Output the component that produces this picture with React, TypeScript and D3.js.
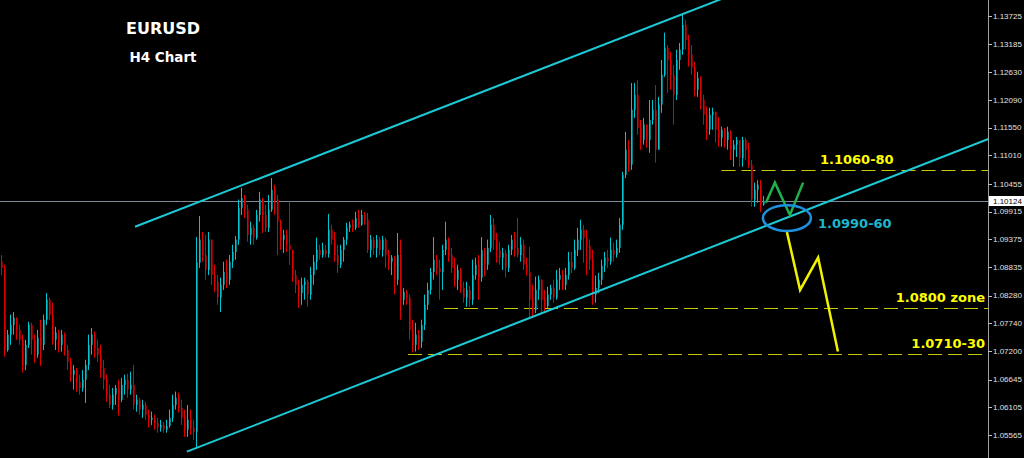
import * as d3 from "d3";

// H4 candles, open = previous close
const firstOpen = 1.0894;

const closes = [
  1.0882, 1.0722, 1.0752, 1.0771, 1.0785, 1.0761, 1.0742, 1.0693, 1.0732, 1.0771, 1.0742, 1.0713, 1.0746, 1.0732, 1.0781,
  1.082, 1.0791, 1.0742, 1.0756, 1.0732, 1.0752, 1.0722, 1.0699, 1.0674, 1.0683, 1.066, 1.0648, 1.0664, 1.0693, 1.0732,
  1.0752, 1.0726, 1.0713, 1.0687, 1.0664, 1.0635, 1.0615, 1.0635, 1.0648, 1.0625, 1.0654, 1.0664, 1.0645, 1.0654, 1.0615,
  1.0625, 1.0606, 1.0615, 1.0596, 1.0586, 1.059, 1.058, 1.0571, 1.0576, 1.0567, 1.0574, 1.059, 1.0615, 1.0629, 1.0609,
  1.059, 1.0567, 1.0586, 1.0571, 1.0563, 1.0892, 1.0937, 1.0907, 1.0878, 1.0937, 1.0868, 1.0855, 1.0824, 1.0849, 1.0874,
  1.0859, 1.0894, 1.0913, 1.0937, 1.0999, 1.1018, 1.0995, 1.0946, 1.096, 1.0941, 1.0985, 1.1015, 1.0985, 1.096, 1.0995,
  1.1034, 1.1015, 1.0972, 1.0937, 1.0946, 1.0927, 1.0917, 1.0868, 1.0849, 1.0833, 1.0849, 1.0855, 1.083, 1.0868, 1.0894,
  1.0917, 1.0907, 1.0917, 1.0909, 1.0956, 1.0937, 1.0907, 1.0888, 1.0917, 1.0937, 1.096, 1.0966, 1.096, 1.0979, 1.0966,
  1.0985, 1.0976, 1.0917, 1.0937, 1.0921, 1.0937, 1.0917, 1.0937, 1.0907, 1.0894, 1.0902, 1.0859, 1.0907, 1.082, 1.0835,
  1.0824, 1.0761, 1.0732, 1.0752, 1.0738, 1.0771, 1.081, 1.0839, 1.0874, 1.0898, 1.0882, 1.0874, 1.0917, 1.0937, 1.0907,
  1.0882, 1.0859, 1.0878, 1.0843, 1.0824, 1.0839, 1.082, 1.0868, 1.0888, 1.0863, 1.0917, 1.0888, 1.0921, 1.0966, 1.0937,
  1.0917, 1.0902, 1.0911, 1.0882, 1.0917, 1.0937, 1.0921, 1.0907, 1.0927, 1.0888, 1.0874, 1.082, 1.08, 1.0839, 1.0859,
  1.082, 1.0808, 1.083, 1.0843, 1.0824, 1.0859, 1.0868, 1.0849, 1.0868, 1.0894, 1.0882, 1.0917, 1.0937, 1.0956, 1.0941,
  1.0925, 1.0898, 1.083, 1.0843, 1.0859, 1.0886, 1.0902, 1.0894, 1.0917, 1.0907, 1.0921, 1.0966, 1.1063, 1.1112, 1.1083,
  1.119, 1.1219, 1.1155, 1.1131, 1.1161, 1.1131, 1.117, 1.119, 1.1112, 1.12, 1.1258, 1.1311, 1.1287, 1.1258, 1.1219,
  1.1287, 1.1307, 1.1355, 1.1326, 1.1297, 1.1272, 1.1229, 1.1252, 1.1209, 1.118, 1.1151, 1.118, 1.1186, 1.1151, 1.1135,
  1.1151, 1.1131, 1.1147, 1.1112, 1.1122, 1.1131, 1.1096, 1.1131, 1.1112, 1.1083, 1.1015, 1.1034, 1.1044, 1.1005, 1.1012,
];

const highs = [
  1.0907, 1.0888, 1.0761, 1.0791, 1.0796, 1.0785, 1.0771, 1.0752, 1.0742, 1.0777, 1.0775, 1.0752, 1.0761, 1.0781, 1.0791,
  1.0833, 1.0824, 1.0814, 1.0767, 1.0761, 1.0761, 1.0756, 1.0732, 1.0707, 1.0693, 1.0687, 1.0674, 1.0683, 1.0703, 1.0752,
  1.0765, 1.0758, 1.0742, 1.0732, 1.0703, 1.0674, 1.0654, 1.0648, 1.0654, 1.0664, 1.0668, 1.0674, 1.0676, 1.068, 1.0693,
  1.0635, 1.0629, 1.0625, 1.0621, 1.0606, 1.0602, 1.0596, 1.059, 1.0586, 1.0582, 1.0586, 1.0606, 1.0635, 1.0641, 1.0639,
  1.0625, 1.0606, 1.0615, 1.0606, 1.0586, 1.0942, 1.0983, 1.0952, 1.0946, 1.0952, 1.0937, 1.0888, 1.0868, 1.0863, 1.0894,
  1.0898, 1.0907, 1.0927, 1.0944, 1.1015, 1.1038, 1.1024, 1.1005, 1.0972, 1.0966, 1.0995, 1.103, 1.1018, 1.1005, 1.1024,
  1.1057, 1.1044, 1.1024, 1.0976, 1.0956, 1.0956, 1.1011, 1.0917, 1.0878, 1.0859, 1.0863, 1.0863, 1.0859, 1.0884, 1.0907,
  1.0941, 1.0927, 1.0931, 1.0927, 1.0987, 1.0966, 1.0952, 1.0927, 1.0927, 1.0942, 1.097, 1.0972, 1.0976, 1.0991, 1.0995,
  1.0995, 1.0991, 1.0989, 1.0946, 1.0942, 1.0946, 1.0942, 1.0944, 1.0941, 1.0917, 1.0907, 1.0905, 1.095, 1.0937, 1.0843,
  1.0839, 1.083, 1.0781, 1.0775, 1.0761, 1.0781, 1.083, 1.0853, 1.0882, 1.0942, 1.0907, 1.0898, 1.0927, 1.0972, 1.0941,
  1.0921, 1.0902, 1.0888, 1.0882, 1.0855, 1.0855, 1.0847, 1.0898, 1.0902, 1.0907, 1.0942, 1.0921, 1.0937, 1.0985, 1.0979,
  1.095, 1.0933, 1.0921, 1.0917, 1.0927, 1.0946, 1.0952, 1.0979, 1.0942, 1.0937, 1.0902, 1.0923, 1.0849, 1.0865, 1.0867,
  1.0859, 1.0839, 1.0845, 1.0849, 1.0859, 1.0878, 1.0882, 1.0878, 1.0882, 1.0913, 1.0913, 1.0937, 1.096, 1.0976, 1.0966,
  1.0956, 1.0937, 1.0917, 1.0867, 1.0872, 1.0898, 1.0913, 1.0917, 1.0941, 1.0931, 1.0937, 1.0979, 1.1069, 1.1147, 1.1131,
  1.1242, 1.1242, 1.1248, 1.117, 1.1174, 1.1161, 1.1209, 1.1209, 1.1238, 1.1215, 1.1287, 1.134, 1.1316, 1.1303, 1.1277,
  1.1307, 1.132, 1.1375, 1.1365, 1.1336, 1.1316, 1.1283, 1.1264, 1.1255, 1.1219, 1.1196, 1.1194, 1.1194, 1.1186, 1.1176,
  1.1157, 1.1155, 1.1157, 1.115, 1.1131, 1.1137, 1.1131, 1.1137, 1.1135, 1.1126, 1.1092, 1.1048, 1.1053, 1.1053, 1.1022,
];

const lows = [
  1.0868, 1.0709, 1.0719, 1.0732, 1.0752, 1.0742, 1.0732, 1.0678, 1.0683, 1.0726, 1.0713, 1.0697, 1.0707, 1.0691, 1.0722,
  1.0771, 1.0781, 1.0732, 1.0722, 1.0717, 1.0719, 1.0711, 1.0683, 1.066, 1.0645, 1.0641, 1.0635, 1.0641, 1.0619, 1.0683,
  1.0713, 1.0707, 1.0699, 1.0668, 1.0645, 1.0621, 1.0609, 1.0606, 1.0615, 1.0594, 1.0621, 1.0635, 1.0629, 1.0635, 1.0606,
  1.0602, 1.0596, 1.059, 1.0586, 1.0571, 1.0576, 1.0567, 1.0561, 1.0563, 1.0561, 1.0561, 1.0571, 1.0582, 1.0606, 1.06,
  1.0576, 1.0553, 1.0553, 1.0557, 1.0547, 1.053, 1.0882, 1.0894, 1.0859, 1.0868, 1.0849, 1.0835, 1.081, 1.0796, 1.0839,
  1.0843, 1.0849, 1.0882, 1.0898, 1.0927, 1.0985, 1.0979, 1.0933, 1.0927, 1.0927, 1.0937, 1.0972, 1.095, 1.0952, 1.0952,
  1.0991, 1.0985, 1.0907, 1.0917, 1.0911, 1.0913, 1.0888, 1.0855, 1.0833, 1.0804, 1.081, 1.082, 1.0806, 1.082, 1.0849,
  1.0878, 1.0898, 1.0902, 1.0902, 1.0902, 1.0927, 1.0894, 1.0872, 1.0882, 1.0894, 1.0927, 1.0952, 1.0952, 1.0956, 1.096,
  1.0964, 1.0966, 1.0911, 1.0902, 1.0907, 1.0902, 1.0907, 1.0904, 1.0882, 1.0878, 1.0868, 1.083, 1.0849, 1.0781, 1.081,
  1.081, 1.0742, 1.0717, 1.0719, 1.0722, 1.0726, 1.0761, 1.08, 1.083, 1.0859, 1.0868, 1.082, 1.0839, 1.0907, 1.0894,
  1.0872, 1.0845, 1.0839, 1.0833, 1.0814, 1.0806, 1.0806, 1.081, 1.0859, 1.082, 1.0855, 1.0865, 1.0878, 1.0913, 1.0917,
  1.0892, 1.0888, 1.0878, 1.0863, 1.0874, 1.0907, 1.0904, 1.0902, 1.0894, 1.0878, 1.0867, 1.0787, 1.0787, 1.0794, 1.082,
  1.0794, 1.0796, 1.0804, 1.082, 1.0814, 1.082, 1.0839, 1.0839, 1.0839, 1.0859, 1.0872, 1.0878, 1.0905, 1.0917, 1.0892,
  1.0868, 1.0878, 1.081, 1.0814, 1.0833, 1.0849, 1.0874, 1.0882, 1.0888, 1.0894, 1.0902, 1.0911, 1.0956, 1.1057, 1.1069,
  1.1073, 1.1174, 1.1141, 1.1112, 1.1122, 1.1116, 1.1106, 1.1161, 1.1087, 1.1112, 1.1184, 1.1254, 1.1223, 1.1229, 1.1161,
  1.1209, 1.1268, 1.1297, 1.1307, 1.1274, 1.1258, 1.1215, 1.1215, 1.119, 1.1161, 1.1131, 1.1141, 1.1151, 1.1126, 1.1118,
  1.1118, 1.1116, 1.1112, 1.1092, 1.1079, 1.1098, 1.1079, 1.1079, 1.1092, 1.1077, 1.1001, 1.1001, 1.1009, 1.0991, 1.1003,
];

const priceTicks = [
  1.13725, 1.13185, 1.1263, 1.1209, 1.1155, 1.1101, 1.10455, 1.09915,
  1.09375, 1.08835, 1.0828, 1.0774, 1.072, 1.06645, 1.06105, 1.05565,
];
const lastPrice = 1.10124;

// dashed levels: price, first bar, label
const levelPrices = [1.1072, 1.0804, 1.0715];
const levelFromBar = [240, 147.5, 135.5];
const levelLabels = ["1.1060-80", "1.0800 zone", "1.0710-30"];

// trend channel, [bar, price]
const upperChannel = [[44.5, 1.0962], [245, 1.1417]];
const lowerChannel = [[61.8, 1.0524], [329, 1.1133]];

// projected paths, [bar, price]
const greenPath = [[254.8, 1.1009], [257.8, 1.1048], [262.8, 1.0985], [267.2, 1.1048]];
const yellowPath = [[261.8, 1.0952], [266.2, 1.0839], [272.2, 1.0902], [278.8, 1.0719]];
const zoneCenter = [261.8, 1.0979];
const zoneBars = 8;
const zonePrice = 0.0025;
const zoneLabel = "1.0990-60";

export default function App() {
  const width = 1024;
  const height = 458;
  const axisX = 988;

  const x = d3.scaleLinear().domain([0, closes.length - 1]).range([1.5, 763.5]);
  const y = d3.scaleLinear().domain([1.05565, 1.13725]).range([435, 16]);
  const fmt = d3.format(".5f");
  const crisp = (v: number) => Math.round(v) + 0.5;
  const line = d3
    .line<number[]>()
    .x((d) => x(d[0]))
    .y((d) => y(d[1]));

  const candles = closes.map((close, i) => {
    const open = i === 0 ? firstOpen : closes[i - 1];
    return {
      i,
      open,
      close,
      high: Math.max(highs[i], open, close),
      low: Math.min(lows[i], open, close),
      up: close >= open,
    };
  });

  const lastY = crisp(y(lastPrice));
  const bold = "'DejaVu Sans', Verdana, sans-serif";

  return (
    <svg
      width={width}
      height={height}
      style={{ position: "absolute", left: 0, top: 0, display: "block", background: "#000" }}
    >
      <defs>
        <clipPath id="plot">
          <rect x={0} y={0} width={axisX} height={height} />
        </clipPath>
      </defs>
      <rect width={width} height={height} fill="#000" />

      <g clipPath="url(#plot)">
        <line x1={0} x2={axisX} y1={lastY} y2={lastY} stroke="#7a8a9c" strokeWidth={1} />

        {levelPrices.map((p, k) => (
          <line
            key={k}
            x1={x(levelFromBar[k])}
            x2={axisX}
            y1={crisp(y(p))}
            y2={crisp(y(p))}
            stroke="#c8c800"
            strokeWidth={1}
            strokeDasharray="14 6"
          />
        ))}

        {candles.map((c) => {
          const top = y(Math.max(c.open, c.close));
          const bottom = y(Math.min(c.open, c.close));
          return (
            <g key={c.i}>
              <rect
                x={x(c.i) - 0.5}
                y={top}
                width={2}
                height={Math.max(1, bottom - top)}
                fill={c.up ? "#007a80" : "#8b0000"}
              />
              <line
                x1={x(c.i)}
                x2={x(c.i)}
                y1={y(c.high)}
                y2={y(c.low)}
                stroke={c.up ? "#00c4d0" : "#e00000"}
                strokeWidth={1}
              />
            </g>
          );
        })}

        <path d={line(upperChannel) ?? ""} fill="none" stroke="#1ccad6" strokeWidth={2} />
        <path d={line(lowerChannel) ?? ""} fill="none" stroke="#1ccad6" strokeWidth={2} />

        <path d={line(greenPath) ?? ""} fill="none" stroke="#22b04a" strokeWidth={2.5} />
        <path d={line(yellowPath) ?? ""} fill="none" stroke="#f2f200" strokeWidth={2.5} />
        <ellipse
          cx={x(zoneCenter[0])}
          cy={y(zoneCenter[1])}
          rx={x(zoneCenter[0] + zoneBars) - x(zoneCenter[0])}
          ry={y(zoneCenter[1] - zonePrice) - y(zoneCenter[1])}
          fill="none"
          stroke="#1e90e0"
          strokeWidth={2.5}
        />
      </g>

      <text x={163} y={34} fill="#fff" fontFamily={bold} fontWeight="bold" fontSize={16} textAnchor="middle">
        EURUSD
      </text>
      <text x={163} y={62} fill="#fff" fontFamily={bold} fontWeight="bold" fontSize={13.5} textAnchor="middle">
        H4 Chart
      </text>

      {levelLabels.map((label, k) => (
        <text
          key={label}
          x={k === 0 ? 820 : 985}
          y={y(levelPrices[k]) - 6}
          fill="#ffff00"
          fontFamily={bold}
          fontWeight="bold"
          fontSize={13}
          textAnchor={k === 0 ? "start" : "end"}
        >
          {label}
        </text>
      ))}
      <text x={818} y={228} fill="#1fb6cc" fontFamily={bold} fontWeight="bold" fontSize={13}>
        {zoneLabel}
      </text>

      <line x1={axisX + 0.5} x2={axisX + 0.5} y1={0} y2={height} stroke="#a0a0a0" strokeWidth={1} />
      {priceTicks.map((t) => (
        <g key={t}>
          <line x1={axisX} x2={axisX + 4} y1={crisp(y(t))} y2={crisp(y(t))} stroke="#c0c0c0" strokeWidth={1} />
          <text
            x={993}
            y={y(t)}
            dy="0.35em"
            fill="#e0e0e0"
            fontFamily="'Liberation Sans', Arial, sans-serif"
            fontSize={8}
          >
            {fmt(t)}
          </text>
        </g>
      ))}
      <rect x={axisX + 1} y={lastY - 5.5} width={width - axisX - 1} height={10} fill="#fff" />
      <text
        x={993}
        y={lastY}
        dy="0.35em"
        fill="#000"
        fontFamily="'Liberation Sans', Arial, sans-serif"
        fontSize={8}
      >
        {fmt(lastPrice)}
      </text>
    </svg>
  );
}
